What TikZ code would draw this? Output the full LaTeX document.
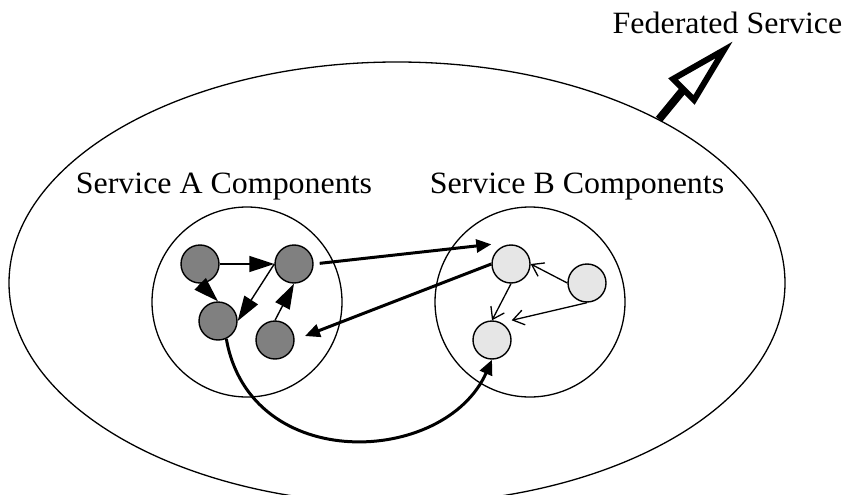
\documentclass[tikz,border=0pt]{standalone}
\usepackage{fontspec}
\setmainfont{Liberation Serif}[FakeStretch=1.03]
\usetikzlibrary{shapes.geometric,arrows.meta}
\definecolor{compdark}{HTML}{808080}
\definecolor{complight}{HTML}{E6E6E6}

\begin{document}
\begin{tikzpicture}[x=1pt,y=-1pt,
  comp/.style={circle, draw, line width=1.4pt, inner sep=0pt, minimum size=38pt},
  compA/.style={comp, fill=compdark},
  compB/.style={comp, fill=complight},
  svcgroup/.style={circle, draw, line width=1.3pt, inner sep=0pt, minimum size=190pt},
  caption/.style={font=\fontsize{31}{34}\selectfont, anchor=base, inner sep=0pt},
  linkA/.style={line width=1.4pt, -{Triangle[length=25pt,width=16pt]}},
  bridge/.style={line width=3pt, -{Triangle[length=15pt,width=13pt]}},
  linkB/.style={line width=1.3pt, -{Straight Barb[length=11pt,width=15pt]}},
]
\clip (0,0) rectangle (846,495);

% federated service boundary
\node[ellipse, draw, line width=1.3pt, inner sep=0pt,
      minimum width=776pt, minimum height=442pt] (fed) at (397,283) {};

% the two service groups
\node[svcgroup] (grpA) at (247,302) {};
\node[svcgroup] (grpB) at (530,302) {};

\node[caption] (capA) at (224,193) {Service A Components};
\node[caption] (capB) at (577,193) {Service B Components};
\node[caption] (capF) at (727.5,34) {Federated Service};

% service A components
\node[compA] (a1) at (200,264) {};
\node[compA] (a2) at (294,264) {};
\node[compA] (a3) at (218,321) {};
\node[compA] (a4) at (275,340) {};

% service B components
\node[compB] (b1) at (511,264) {};
\node[compB] (b2) at (587,283) {};
\node[compB] (b3) at (492,340) {};

% links inside A
\draw[linkA] (a1.east) -- (a2.west);
\draw[linkA] (a1.south) -- (a3.north);
\draw[linkA] (a2.west) -- (a3.east);
\draw[linkA] (a4.north) -- (a2.south);

% links inside B
\draw[linkB] (b1.south) -- (b3.north);
\draw[linkB] (b2.west) -- (b1.east);
\draw[linkB] (b2.south) -- (b3.north -| b3.east);

% links between the services
\draw[bridge, shorten <=6pt] (a2.east) -- (b1.north -| b1.west);
\draw[bridge, shorten >=11pt] (b1.west) -- (a4.east);
\draw[bridge] (a3.-65) .. controls +(24,136) and +(-47,106) .. (b3.south);

% outgoing arrow of the federated service
\coordinate (fhead) at (683.5,89.5);
\draw[line width=8pt] (fed.32.8) -- (fhead);
\draw[line width=6pt, line join=miter, fill=white]
  (673,79) -- (724,50) -- (694,100) -- cycle;
\end{tikzpicture}
\end{document}
